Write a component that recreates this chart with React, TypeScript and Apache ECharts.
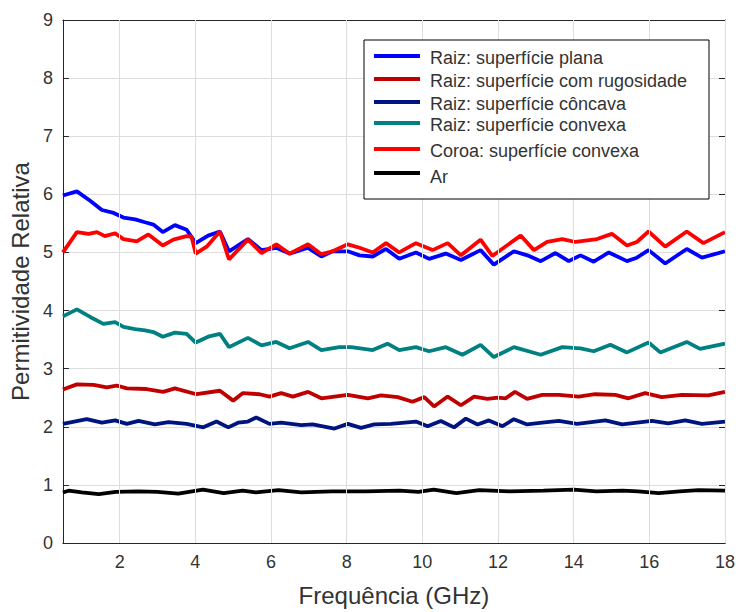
import React, { useEffect, useRef } from "react";
import * as echarts from "echarts";

// Frequency (GHz) / relative permittivity samples for each measured sample
const planaFreq = [0.5, 0.87, 1.22, 1.53, 1.84, 2.1, 2.41, 2.67, 2.89, 3.14, 3.46, 3.77, 4.01, 4.34, 4.65, 4.89, 5.39, 5.75, 6.14, 6.49, 6.98, 7.33, 7.63, 8.03, 8.34, 8.69, 9.04, 9.39, 9.83, 10.18, 10.62, 11.02, 11.54, 11.89, 12.42, 12.82, 13.13, 13.52, 13.87, 14.18, 14.53, 14.93, 15.41, 15.67, 15.98, 16.42, 16.99, 17.39, 18];
const planaVals = [5.98, 6.05, 5.89, 5.73, 5.68, 5.6, 5.57, 5.52, 5.48, 5.35, 5.47, 5.39, 5.16, 5.29, 5.36, 5.02, 5.23, 5.04, 5.08, 4.98, 5.08, 4.93, 5.02, 5.02, 4.95, 4.93, 5.06, 4.89, 5.0, 4.89, 4.98, 4.87, 5.04, 4.79, 5.02, 4.94, 4.85, 4.99, 4.85, 4.95, 4.84, 5.0, 4.85, 4.91, 5.04, 4.81, 5.06, 4.91, 5.02];

const rugosFreq = [0.5, 0.87, 1.31, 1.66, 1.92, 2.19, 2.71, 3.15, 3.46, 4.03, 4.65, 5.0, 5.26, 5.7, 5.96, 6.27, 6.58, 6.98, 7.33, 8.03, 8.56, 8.91, 9.35, 9.74, 10.05, 10.31, 10.67, 11.02, 11.37, 11.72, 12.0, 12.2, 12.45, 12.77, 13.17, 13.61, 14.13, 14.57, 15.1, 15.45, 15.89, 16.33, 16.86, 17.56, 18];
const rugosVals = [2.64, 2.73, 2.72, 2.68, 2.71, 2.66, 2.65, 2.6, 2.66, 2.56, 2.62, 2.45, 2.58, 2.56, 2.52, 2.58, 2.52, 2.6, 2.49, 2.55, 2.49, 2.54, 2.51, 2.43, 2.51, 2.35, 2.52, 2.37, 2.52, 2.48, 2.5, 2.49, 2.6, 2.48, 2.55, 2.55, 2.52, 2.56, 2.55, 2.49, 2.58, 2.51, 2.55, 2.54, 2.6];

const concavaFreq = [0.5, 1.13, 1.53, 1.88, 2.19, 2.5, 2.93, 3.29, 3.77, 4.21, 4.56, 4.87, 5.13, 5.39, 5.61, 5.96, 6.27, 6.8, 7.1, 7.68, 8.03, 8.38, 8.73, 9.17, 9.83, 10.14, 10.49, 10.84, 11.15, 11.46, 11.76, 12.12, 12.42, 12.77, 13.17, 13.61, 14.09, 14.84, 15.28, 16.07, 16.5, 16.95, 17.39, 18];
const concavaVals = [2.05, 2.13, 2.07, 2.11, 2.05, 2.1, 2.04, 2.08, 2.05, 1.99, 2.09, 1.99, 2.07, 2.09, 2.16, 2.05, 2.07, 2.03, 2.04, 1.97, 2.05, 1.98, 2.04, 2.05, 2.09, 2.01, 2.1, 1.99, 2.14, 2.04, 2.11, 2.01, 2.13, 2.04, 2.07, 2.1, 2.05, 2.11, 2.04, 2.1, 2.06, 2.11, 2.05, 2.09];

const convexaFreq = [0.5, 0.87, 1.22, 1.57, 1.88, 2.1, 2.41, 2.67, 2.89, 3.14, 3.46, 3.77, 4.01, 4.34, 4.65, 4.89, 5.39, 5.75, 6.14, 6.49, 6.98, 7.33, 7.81, 8.12, 8.69, 9.08, 9.39, 9.83, 10.18, 10.62, 11.06, 11.54, 11.89, 12.42, 13.13, 13.7, 14.18, 14.53, 14.97, 15.41, 15.98, 16.29, 16.99, 17.34, 18];
const convexaVals = [3.9, 4.02, 3.89, 3.77, 3.8, 3.72, 3.68, 3.66, 3.63, 3.55, 3.62, 3.6, 3.45, 3.55, 3.6, 3.37, 3.53, 3.4, 3.46, 3.35, 3.46, 3.32, 3.37, 3.37, 3.32, 3.43, 3.32, 3.37, 3.3, 3.37, 3.24, 3.41, 3.2, 3.37, 3.24, 3.37, 3.35, 3.3, 3.41, 3.28, 3.45, 3.28, 3.46, 3.34, 3.43];

const coroaFreq = [0.5, 0.87, 1.18, 1.4, 1.61, 1.88, 2.1, 2.45, 2.76, 3.14, 3.42, 3.77, 3.9, 4.01, 4.3, 4.65, 4.89, 5.39, 5.75, 6.14, 6.49, 6.98, 7.33, 7.63, 8.03, 8.34, 8.69, 9.04, 9.39, 9.83, 10.27, 10.67, 11.02, 11.54, 11.85, 12.6, 12.95, 13.3, 13.7, 14.05, 14.62, 15.01, 15.41, 15.67, 15.98, 16.42, 16.99, 17.43, 18];
const coroaVals = [5.0, 5.35, 5.32, 5.35, 5.28, 5.33, 5.23, 5.19, 5.31, 5.12, 5.22, 5.28, 5.27, 4.98, 5.1, 5.36, 4.88, 5.22, 4.99, 5.14, 4.98, 5.14, 4.97, 5.02, 5.14, 5.08, 5.0, 5.16, 5.0, 5.16, 5.04, 5.16, 4.95, 5.22, 4.94, 5.29, 5.04, 5.18, 5.23, 5.18, 5.23, 5.32, 5.12, 5.18, 5.36, 5.1, 5.36, 5.16, 5.35];

const arFreq = [0.5, 0.65, 1.0, 1.45, 1.9, 2.5, 3.0, 3.55, 4.2, 4.75, 5.25, 5.6, 6.2, 6.8, 7.6, 8.5, 9.4, 9.9, 10.3, 10.9, 11.5, 12.3, 13.2, 14.0, 14.6, 15.3, 15.7, 16.25, 16.8, 17.3, 18];
const arVals = [0.87, 0.9, 0.87, 0.84, 0.88, 0.89, 0.88, 0.85, 0.92, 0.86, 0.9, 0.87, 0.91, 0.87, 0.89, 0.89, 0.9, 0.88, 0.92, 0.86, 0.91, 0.89, 0.9, 0.92, 0.89, 0.9, 0.89, 0.86, 0.89, 0.91, 0.9];

const seriesNames = [
  "Raiz: superfície plana",
  "Raiz: superfície com rugosidade",
  "Raiz: superfície côncava",
  "Raiz: superfície convexa",
  "Coroa: superfície convexa",
  "Ar",
];
const seriesColors = ["#0000ff", "#c00000", "#001480", "#008080", "#ff0000", "#000000"];

const xTickValues = [2, 4, 6, 8, 10, 12, 14, 16, 18];

const FONT = "'Liberation Sans', Arial, Helvetica, sans-serif";
const AXIS_COLOR = "#262626";
const LABEL_COLOR = "#333333";
const GRID_COLOR = "#dedede";

function pairs(xs: number[], ys: number[]) {
  return xs.map((x, i) => [x, ys[i]]);
}

export default function App() {
  const ref = useRef<HTMLDivElement>(null);

  useEffect(() => {
    if (!ref.current) return;
    const chart = echarts.init(ref.current, undefined, { renderer: "svg" });

    const curves = [
      pairs(planaFreq, planaVals),
      pairs(rugosFreq, rugosVals),
      pairs(concavaFreq, concavaVals),
      pairs(convexaFreq, convexaVals),
      pairs(coroaFreq, coroaVals),
      pairs(arFreq, arVals),
    ];

    // Legend drawn as a boxed list (uneven row spacing)
    const legendLeft = 364;
    const legendTop = 40;
    const rowY = [56, 79, 102, 123, 149, 173];
    const legendItems: any[] = [
      {
        type: "rect",
        shape: { x: legendLeft, y: legendTop, width: 345, height: 159 },
        style: { fill: "#ffffff", stroke: "#000000", lineWidth: 1 },
        z: 100,
      },
    ];
    seriesNames.forEach((name, i) => {
      legendItems.push({
        type: "line",
        shape: { x1: 374, y1: rowY[i], x2: 420, y2: rowY[i] },
        style: { stroke: seriesColors[i], lineWidth: 4 },
        z: 101,
      });
      legendItems.push({
        type: "text",
        x: 430,
        y: rowY[i] + (i === 5 ? 4 : 2),
        style: {
          text: name,
          fontFamily: FONT,
          fontSize: 18,
          fill: LABEL_COLOR,
          verticalAlign: "middle",
          align: "left",
        },
        z: 101,
      });
    });

    chart.setOption({
      animation: false,
      backgroundColor: "#ffffff",
      grid: { left: 61, right: 13, top: 20, bottom: 64, containLabel: false },
      xAxis: [
        {
          type: "value",
          min: 0.5,
          max: 18,
          position: "bottom",
          name: "Frequência (GHz)",
          nameLocation: "middle",
          nameGap: 40,
          nameTextStyle: { fontFamily: FONT, fontSize: 24, color: LABEL_COLOR },
          axisLine: { show: true, onZero: false, lineStyle: { color: AXIS_COLOR, width: 1 } },
          axisTick: { show: true, inside: true, length: 6, customValues: xTickValues, lineStyle: { color: AXIS_COLOR } },
          axisLabel: { customValues: xTickValues, fontFamily: FONT, fontSize: 18, color: LABEL_COLOR, margin: 10 },
          splitLine: { show: false },
        },
        {
          type: "value",
          min: 0.5,
          max: 18,
          position: "top",
          axisLine: { show: true, onZero: false, lineStyle: { color: AXIS_COLOR, width: 1 } },
          axisTick: { show: true, inside: true, length: 6, customValues: xTickValues, lineStyle: { color: AXIS_COLOR } },
          axisLabel: { show: false },
          splitLine: { show: false },
        },
      ],
      yAxis: [
        {
          type: "value",
          min: 0,
          max: 9,
          interval: 1,
          position: "left",
          name: "Permitividade Relativa",
          nameLocation: "middle",
          nameGap: 28,
          nameTextStyle: { fontFamily: FONT, fontSize: 24, color: LABEL_COLOR },
          axisLine: { show: true, onZero: false, lineStyle: { color: AXIS_COLOR, width: 1 } },
          axisTick: { show: true, inside: true, length: 6, lineStyle: { color: AXIS_COLOR } },
          axisLabel: { fontFamily: FONT, fontSize: 18, color: LABEL_COLOR, margin: 10 },
          splitLine: { show: true, lineStyle: { color: GRID_COLOR, width: 1 } },
        },
        {
          type: "value",
          min: 0,
          max: 9,
          interval: 1,
          position: "right",
          axisLine: { show: true, onZero: false, lineStyle: { color: AXIS_COLOR, width: 1 } },
          axisTick: { show: true, inside: true, length: 6, lineStyle: { color: AXIS_COLOR } },
          axisLabel: { show: false },
          splitLine: { show: false },
        },
      ],
      series: [
        // vertical grid lines at the labelled frequencies
        {
          type: "line",
          data: [],
          silent: true,
          markLine: {
            silent: true,
            symbol: "none",
            label: { show: false },
            lineStyle: { color: GRID_COLOR, width: 1, type: "solid" },
            data: xTickValues.map((v) => ({ xAxis: v })),
          },
          z: 1,
        },
        ...curves.map((data, i) => ({
          name: seriesNames[i],
          type: "line",
          data,
          showSymbol: false,
          symbol: "none",
          smooth: false,
          lineStyle: { color: seriesColors[i], width: 3.8 },
          itemStyle: { color: seriesColors[i] },
          z: 3,
        })),
      ],
      graphic: legendItems,
    });

    return () => chart.dispose();
  }, []);

  return (
    <div
      ref={ref}
      style={{ position: "fixed", left: 0, top: 0, width: 738, height: 612 }}
    />
  );
}
